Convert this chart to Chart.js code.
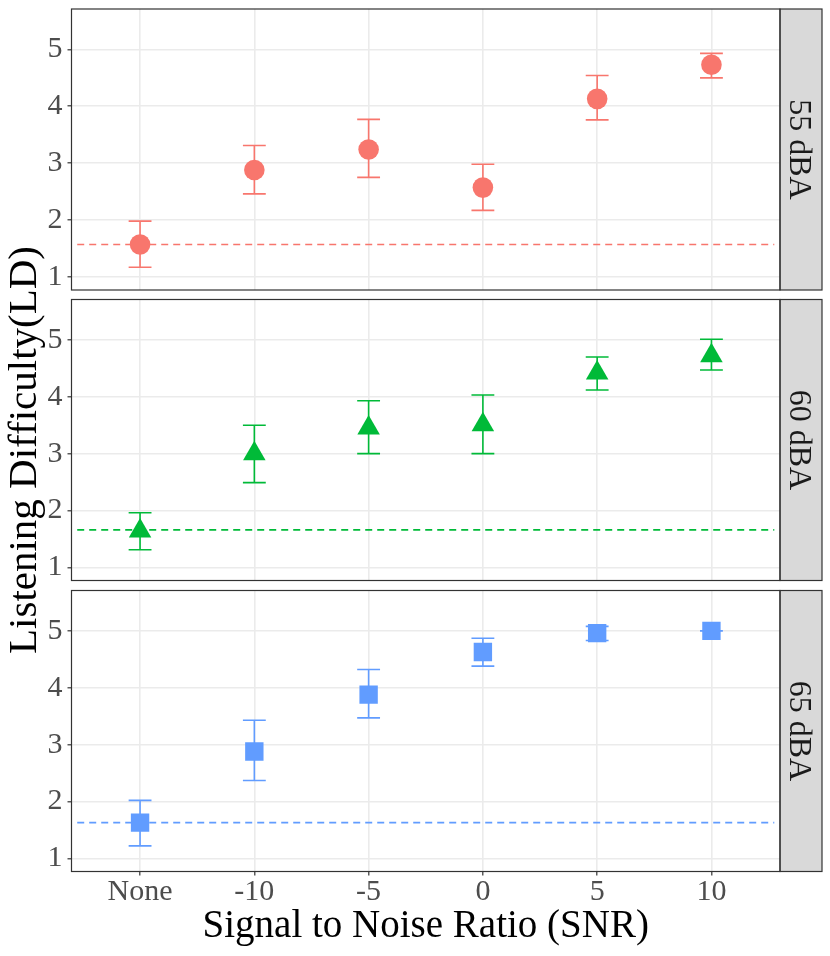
<!DOCTYPE html>
<html><head><meta charset="utf-8">
<script src="https://cdn.jsdelivr.net/npm/chart.js@4.4.1/dist/chart.umd.min.js"></script>
<style>
html,body{margin:0;padding:0;background:#fff;}
#wrap{position:relative;width:830px;height:956px;background:#fff;overflow:hidden;}
canvas{position:absolute;left:0;top:-60px;}
</style></head><body>
<div id="wrap">
<canvas id="c1" width="830" height="1076"></canvas>
<canvas id="c2" width="830" height="1076"></canvas>
<canvas id="c3" width="830" height="1076"></canvas>
</div>
<script>
// ---- data ----
const categories = ['None', '-10', '-5', '0', '5', '10'];
const panelNames = ['55 dBA', '60 dBA', '65 dBA'];
const yTickLabels = [1, 2, 3, 4, 5];
const yGridValues = [1, 1.5, 2, 2.5, 3, 3.5, 4, 4.5, 5, 5.5];

const mean55 = [1.57, 2.88, 3.24, 2.57, 4.13, 4.73];
const low55  = [1.17, 2.46, 2.75, 2.17, 3.76, 4.50];
const high55 = [1.98, 3.31, 3.77, 2.98, 4.54, 4.93];
const baseline55 = 1.57;

const mean60 = [1.64, 3.00, 3.45, 3.51, 4.42, 4.72];
const low60  = [1.31, 2.49, 3.00, 3.00, 4.12, 4.47];
const high60 = [1.96, 3.50, 3.93, 4.03, 4.70, 5.01];
const baseline60 = 1.66;

const mean65 = [1.63, 2.88, 3.88, 4.63, 4.96, 5.00];
const low65  = [1.22, 2.37, 3.47, 4.38, 4.83, 5.00];
const high65 = [2.02, 3.43, 4.32, 4.87, 5.08, 5.00];
const baseline65 = 1.63;

// ---- layout / style ----
const FONT = "'Liberation Serif', 'Times New Roman', serif";
const OFF = 60;
const CANVAS_H = 956 + 2 * OFF;
const PANEL_TOPS = [9, 299.5, 590.5];
const PANEL_H = 281;
const AXIS_W = 71.5, STRIP_W = 42, RIGHT_PAD = 8;
const X_MIN = -0.6, X_MAX = 5.6;
const BASE_FROM = -0.55, BASE_TO = 5.55;
const CAP_HALF = 0.1;
const Y_MIN = 0.77, Y_MAX = 5.71;
const BOTTOM_AXIS_H = 84.5;

function isMajor(v) { return Math.abs(v - Math.round(v)) < 1e-6; }

function makeErrorBars(lo, hi, color) {
  return {
    id: 'errorBars',
    beforeDatasetsDraw(chart) {
      const {ctx, scales: {x, y}} = chart;
      ctx.save();
      ctx.strokeStyle = color;
      ctx.lineWidth = 1.6;
      lo.forEach((l, i) => {
        const px = x.getPixelForValue(i);
        const pa = x.getPixelForValue(i - CAP_HALF), pb = x.getPixelForValue(i + CAP_HALF);
        const pl = y.getPixelForValue(l), ph = y.getPixelForValue(hi[i]);
        ctx.beginPath();
        ctx.moveTo(px, pl); ctx.lineTo(px, ph);
        ctx.moveTo(pa, pl); ctx.lineTo(pb, pl);
        ctx.moveTo(pa, ph); ctx.lineTo(pb, ph);
        ctx.stroke();
      });
      ctx.restore();
    }
  };
}

const frame = {
  id: 'frame',
  afterDraw(chart) {
    const {ctx, chartArea: a, scales} = chart;
    const s = scales.strip;
    ctx.save();
    ctx.strokeStyle = '#333333';
    ctx.lineWidth = 1.2;
    ctx.strokeRect(a.left, a.top, a.right - a.left, a.bottom - a.top);
    ctx.strokeRect(s.left, s.top, s.right - s.left, s.bottom - s.top);
    ctx.restore();
  }
};

const yTitle = {
  id: 'yTitle',
  afterDraw(chart) {
    const ctx = chart.ctx;
    ctx.save();
    ctx.translate(25, 450 + OFF);
    ctx.rotate(-Math.PI / 2);
    ctx.font = '41px ' + FONT;
    ctx.fillStyle = '#000000';
    ctx.textAlign = 'center';
    ctx.textBaseline = 'middle';
    ctx.fillText('Listening Difficulty(LD)', 0, 0);
    ctx.restore();
  }
};

function makePanel(k, canvasId, means, lo, hi, base, color, pointStyle, radius) {
  const isBottom = k === 2;
  const top = PANEL_TOPS[k] + OFF;
  const bottomEdge = top + PANEL_H;
  const padBottom = isBottom ? OFF : CANVAS_H - bottomEdge;
  const plugins = [makeErrorBars(lo, hi, color), frame];
  if (k === 1) plugins.push(yTitle);
  return new Chart(document.getElementById(canvasId), {
    type: 'scatter',
    data: {
      datasets: [
        {
          data: means.map((m, i) => ({x: i, y: m})),
          pointStyle: pointStyle,
          pointRadius: radius,
          pointBackgroundColor: color,
          pointBorderColor: color,
          pointBorderWidth: 0,
          showLine: false,
          yAxisID: 'y'
        },
        {
          type: 'line',
          data: [{x: BASE_FROM, y: base}, {x: BASE_TO, y: base}],
          borderColor: color,
          borderWidth: 1.6,
          borderDash: [7, 5],
          pointRadius: 0,
          fill: false,
          yAxisID: 'y'
        }
      ]
    },
    options: {
      responsive: false,
      animation: false,
      events: [],
      devicePixelRatio: 1,
      layout: {
        autoPadding: false,
        padding: {top: top, bottom: padBottom, left: 0, right: RIGHT_PAD}
      },
      plugins: {legend: {display: false}, tooltip: {enabled: false}, title: {display: false}},
      scales: {
        x: {
          type: 'linear',
          min: X_MIN, max: X_MAX,
          afterBuildTicks: s => { s.ticks = categories.map((_, i) => ({value: i})); },
          afterFit: s => { s.height = isBottom ? BOTTOM_AXIS_H : 0; },
          grid: {color: '#EBEBEB', lineWidth: 1.6, drawTicks: isBottom, tickLength: 4, tickColor: '#333333', tickWidth: 1.2},
          border: {display: false},
          ticks: {
            display: isBottom, autoSkip: false, maxRotation: 0, minRotation: 0, padding: -1,
            color: '#4D4D4D', font: {family: FONT, size: 30},
            callback: v => categories[v]
          },
          title: {
            display: isBottom, text: 'Signal to Noise Ratio (SNR)', color: '#000000',
            font: {family: FONT, size: 39}, padding: {top: 0, bottom: 6}
          }
        },
        y: {
          type: 'linear', position: 'left',
          min: Y_MIN, max: Y_MAX,
          afterBuildTicks: s => { s.ticks = yGridValues.map(v => ({value: v})); },
          afterFit: s => { s.width = AXIS_W; },
          grid: {
            color: '#EBEBEB',
            lineWidth: c => (c.tick && isMajor(c.tick.value)) ? 1.6 : 0.9,
            drawTicks: true, tickLength: 4,
            tickColor: c => (c.tick && isMajor(c.tick.value)) ? '#333333' : 'rgba(0,0,0,0)',
            tickWidth: 1.2
          },
          border: {display: false},
          ticks: {
            padding: 5, color: '#4D4D4D', font: {family: FONT, size: 30},
            callback: v => yTickLabels.includes(v) ? String(v) : ''
          }
        },
        strip: {
          type: 'linear', position: 'right', display: true,
          afterFit: s => { s.width = STRIP_W; },
          grid: {display: false, drawTicks: false},
          ticks: {display: false},
          border: {display: false},
          backgroundColor: '#D9D9D9',
          title: {
            display: true, text: panelNames[k], color: '#1A1A1A',
            font: {family: FONT, size: 32}, padding: {top: 4, bottom: 0}
          }
        }
      }
    },
    plugins: plugins
  });
}

makePanel(0, 'c1', mean55, low55, high55, baseline55, '#F8766D', 'circle', 10.3);
makePanel(1, 'c2', mean60, low60, high60, baseline60, '#00BA38', 'triangle', 13);
makePanel(2, 'c3', mean65, low65, high65, baseline65, '#619CFF', 'rect', 13);
</script>
</body></html>
